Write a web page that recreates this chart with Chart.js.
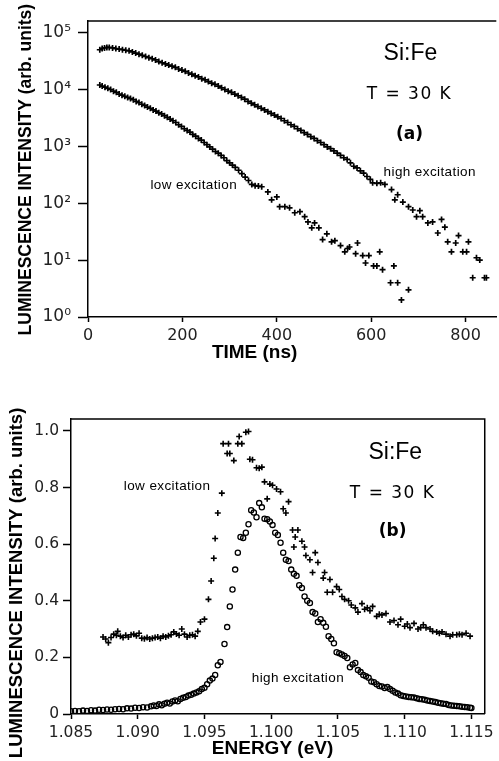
<!DOCTYPE html>
<html>
<head>
<meta charset="utf-8">
<script src="https://cdn.jsdelivr.net/npm/chart.js@4.4.1/dist/chart.umd.min.js"></script>
<style>
html, body { margin: 0; padding: 0; background: #fff; overflow: hidden; }
#wrap { position: relative; width: 499px; height: 761px; overflow: hidden; }
canvas { position: absolute; left: 0; }
#decay { top: 0; }
#spectrum { top: 370px; }
</style>
</head>
<body>
<div id="wrap">
    <canvas id="decay" width="502" height="365"></canvas>
    <canvas id="spectrum" width="499" height="391"></canvas>
</div>
<script>
// ---- panel (a): luminescence decay, log scale ----
const timeHigh = [25, 30, 35, 40, 45, 52, 59, 66, 73, 80, 87, 94, 101, 108, 115, 122, 129, 136, 143, 150,
    157, 164, 171, 178, 185, 192, 199, 206, 213, 220, 227, 234, 241, 248, 255, 262, 269, 276, 283, 290,
    297, 304, 311, 318, 325, 332, 339, 346, 353, 360, 367, 374, 381, 388, 395, 402, 409, 416, 423, 430,
    437, 444, 451, 458, 465, 472, 479, 486, 493, 500, 507, 514, 521, 528, 535, 542, 549, 556, 563, 570,
    577, 584, 591, 598, 603, 612, 620, 629, 643, 650, 656, 667, 679, 688, 696, 703, 709, 720, 730, 741,
    749, 756, 762, 770, 779, 785, 794, 802, 806, 815, 823, 830, 840, 844];
const intensityHigh = [50000, 52500, 53700, 55000, 55000, 53700, 52500, 51300, 50100, 49000, 47900, 45700, 43700, 41700, 39800, 38000, 36300, 34700, 33100, 30900,
    29500, 28200, 26900, 25700, 24500, 22900, 21900, 20900, 19500, 18600, 17400, 16600, 15500, 14800, 13800, 12900, 12300, 11500, 10700, 10000,
    9330, 8910, 8320, 7760, 7240, 6760, 6170, 5750, 5370, 5010, 4680, 4370, 4070, 3800, 3550, 3310, 3090, 2820, 2630, 2400,
    2240, 2040, 1910, 1740, 1620, 1480, 1380, 1260, 1170, 1070, 977, 912, 832, 759, 692, 631, 589, 513, 447, 417,
    372, 339, 295, 263, 229, 224, 229, 214, 174, 115, 141, 105, 87, 76, 58, 74, 58, 45, 47, 30,
    52, 38, 21, 14, 20, 27, 14, 14, 21, 4.9, 11, 10, 4.9, 4.9];

const timeLow = [25, 30, 36, 42, 48, 54, 60, 66, 72, 78, 84, 90, 96, 102, 108, 114, 120, 126, 132, 138,
    144, 150, 156, 162, 168, 174, 180, 186, 192, 198, 204, 210, 216, 222, 228, 234, 240, 246, 252, 258,
    264, 270, 276, 282, 288, 294, 300, 306, 312, 319, 326, 333, 340, 347, 354, 361, 368, 381, 389, 400,
    406, 417, 427, 438, 449, 459, 466, 474, 480, 489, 497, 506, 516, 523, 535, 544, 550, 554, 567, 571,
    582, 588, 595, 605, 612, 618, 624, 641, 648, 656, 664, 679];
const intensityLow = [12000, 11500, 11000, 10500, 10000, 9330, 8910, 8320, 7940, 7590, 7240, 6920, 6610, 6170, 5890, 5500, 5250, 4900, 4680, 4370,
    4170, 3890, 3720, 3470, 3240, 3020, 2820, 2630, 2400, 2240, 2040, 1910, 1780, 1620, 1510, 1380, 1290, 1170, 1070, 977,
    891, 813, 759, 692, 631, 562, 513, 468, 427, 380, 331, 288, 251, 214, 204, 200, 195, 158, 115, 129,
    87, 87, 83, 68, 71, 58, 47, 37, 45, 37, 23, 29, 21, 22, 18, 14, 16, 17, 13, 20,
    12, 8.9, 12, 7.9, 7.9, 14, 6.8, 4.0, 7.9, 4.0, 2.0, 3.0];

const timeTicks = [0, 200, 400, 600, 800];
const decadeTicks = [1, 10, 100, 1000, 10000, 100000];
const SUPERSCRIPTS = ['\u2070', '\u00b9', '\u00b2', '\u00b3', '\u2074', '\u2075'];

// ---- panel (b): luminescence spectra ----
const energyHigh = [
    1.0850, 1.0853, 1.0856, 1.0859, 1.0862, 1.0865, 1.0868, 1.0871, 1.0874, 1.0877,
    1.0880, 1.0883, 1.0886, 1.0889, 1.0892, 1.0895, 1.0898, 1.0901, 1.0904, 1.0907,
    1.0910, 1.0912, 1.0914, 1.0916, 1.0918, 1.0920, 1.0922, 1.0924, 1.0926, 1.0928,
    1.0930, 1.0932, 1.0934, 1.0936, 1.0938, 1.0940, 1.0942, 1.0944, 1.0946, 1.0948,
    1.0950, 1.0952, 1.0954, 1.0956, 1.0958, 1.0960, 1.0962, 1.0965, 1.0967, 1.0969,
    1.0971, 1.0973, 1.0975, 1.0977, 1.0979, 1.0981, 1.0983, 1.0985, 1.0987, 1.0989,
    1.0991, 1.0993, 1.0995, 1.0997, 1.0999, 1.1001, 1.1003, 1.1005, 1.1007, 1.1009,
    1.1011, 1.1013, 1.1015, 1.1017, 1.1019, 1.1021, 1.1023, 1.1025, 1.1027, 1.1029,
    1.1031, 1.1033, 1.1035, 1.1037, 1.1039, 1.1041, 1.1043, 1.1045, 1.1047, 1.1049,
    1.1051, 1.1053, 1.1055, 1.1057, 1.1059, 1.1061, 1.1063, 1.1065, 1.1067, 1.1069,
    1.1071, 1.1073, 1.1075, 1.1077, 1.1079, 1.1081, 1.1083, 1.1085, 1.1087, 1.1089,
    1.1091, 1.1093, 1.1095, 1.1097, 1.1099, 1.1101, 1.1103, 1.1105, 1.1107, 1.1109,
    1.1111, 1.1113, 1.1115, 1.1117, 1.1119, 1.1121, 1.1123, 1.1125, 1.1127, 1.1129,
    1.1131, 1.1133, 1.1135, 1.1137, 1.1139, 1.1141, 1.1143, 1.1145, 1.1147, 1.1149,
    1.1150];
const specHigh = [
    0.010, 0.011, 0.010, 0.012, 0.011, 0.013, 0.012, 0.015, 0.014, 0.016,
    0.015, 0.017, 0.018, 0.017, 0.020, 0.019, 0.022, 0.021, 0.024, 0.023,
    0.027, 0.030, 0.028, 0.034, 0.031, 0.036, 0.040, 0.037, 0.044, 0.048,
    0.045, 0.053, 0.057, 0.060, 0.065, 0.068, 0.072, 0.076, 0.080, 0.088,
    0.093, 0.105, 0.118, 0.125, 0.138, 0.172, 0.184, 0.247, 0.307, 0.380,
    0.440, 0.510, 0.570, 0.625, 0.622, 0.640, 0.670, 0.720, 0.712, 0.695,
    0.745, 0.730, 0.690, 0.688, 0.680, 0.668, 0.640, 0.632, 0.605, 0.570,
    0.545, 0.540, 0.510, 0.495, 0.488, 0.455, 0.445, 0.415, 0.400, 0.392,
    0.360, 0.355, 0.325, 0.335, 0.322, 0.308, 0.275, 0.265, 0.250, 0.218,
    0.215, 0.210, 0.205, 0.198, 0.165, 0.175, 0.180, 0.155, 0.148, 0.138,
    0.133, 0.128, 0.115, 0.112, 0.105, 0.099, 0.097, 0.092, 0.095, 0.088,
    0.082, 0.076, 0.072, 0.066, 0.064, 0.062, 0.060, 0.059, 0.058, 0.056,
    0.053, 0.052, 0.050, 0.048, 0.046, 0.044, 0.042, 0.040, 0.038, 0.036,
    0.035, 0.032, 0.030, 0.029, 0.028, 0.027, 0.026, 0.025, 0.024, 0.022,
    0.021];

const energyLow = [
    1.0874, 1.0876, 1.0878, 1.0880, 1.0882, 1.0884, 1.0885, 1.0887, 1.0889, 1.0891,
    1.0893, 1.0895, 1.0897, 1.0899, 1.0901, 1.0903, 1.0905, 1.0907, 1.0909, 1.0911,
    1.0913, 1.0915, 1.0917, 1.0919, 1.0921, 1.0923, 1.0925, 1.0927, 1.0929, 1.0931,
    1.0933, 1.0935, 1.0937, 1.0939, 1.0941, 1.0943, 1.0945, 1.0947, 1.0950, 1.0953,
    1.0955, 1.0957, 1.0958, 1.0960, 1.0963, 1.0964, 1.0967, 1.0968, 1.0969, 1.0972,
    1.0975, 1.0976, 1.0978, 1.0981, 1.0983, 1.0984, 1.0986, 1.0989, 1.0991, 1.0993,
    1.0995, 1.0997, 1.0999, 1.1001, 1.1004, 1.1007, 1.1009, 1.1011, 1.1013, 1.1016,
    1.1017, 1.1018, 1.1020, 1.1023, 1.1025, 1.1026, 1.1029, 1.1031, 1.1033, 1.1035,
    1.1039, 1.1040, 1.1042, 1.1044, 1.1046, 1.1049, 1.1051, 1.1053, 1.1055, 1.1058,
    1.1060, 1.1063, 1.1065, 1.1068, 1.1070, 1.1072, 1.1074, 1.1076, 1.1079, 1.1081,
    1.1083, 1.1086, 1.1089, 1.1092, 1.1095, 1.1097, 1.1100, 1.1102, 1.1104, 1.1107,
    1.1110, 1.1112, 1.1114, 1.1116, 1.1119, 1.1121, 1.1124, 1.1126, 1.1128, 1.1131,
    1.1134, 1.1136, 1.1139, 1.1141, 1.1143, 1.1146, 1.1149];
const specLow = [
    0.272, 0.265, 0.252, 0.270, 0.282, 0.278, 0.292, 0.275, 0.270, 0.278,
    0.272, 0.280, 0.282, 0.276, 0.285, 0.268, 0.266, 0.270, 0.265, 0.268,
    0.270, 0.272, 0.268, 0.275, 0.272, 0.276, 0.280, 0.290, 0.283, 0.278,
    0.300, 0.282, 0.272, 0.278, 0.280, 0.275, 0.292, 0.325, 0.335, 0.405,
    0.470, 0.550, 0.620, 0.710, 0.780, 0.955, 0.920, 0.955, 0.920, 0.895,
    0.955, 0.980, 0.955, 0.995, 0.998, 0.900, 0.898, 0.870, 0.868, 0.872,
    0.820, 0.760, 0.812, 0.808, 0.795, 0.785, 0.725, 0.710, 0.750, 0.650,
    0.590, 0.625, 0.650, 0.610, 0.590, 0.560, 0.545, 0.500, 0.570, 0.535,
    0.480, 0.500, 0.430, 0.475, 0.430, 0.450, 0.440, 0.415, 0.405, 0.400,
    0.385, 0.375, 0.360, 0.390, 0.370, 0.375, 0.365, 0.380, 0.345, 0.352,
    0.350, 0.355, 0.325, 0.330, 0.315, 0.335, 0.310, 0.318, 0.305, 0.320,
    0.300, 0.305, 0.315, 0.305, 0.300, 0.292, 0.290, 0.285, 0.290, 0.282,
    0.275, 0.280, 0.280, 0.282, 0.280, 0.285, 0.275];

const energyTicks = [1.085, 1.090, 1.095, 1.100, 1.105, 1.110, 1.115];
const spectrumTicks = [0, 0.2, 0.4, 0.6, 0.8, 1.0];

const toPoints = (xs, ys) => xs.map((x, i) => ({ x: x, y: ys[i] }));

Chart.defaults.font.family = "'DejaVu Sans', sans-serif";
Chart.defaults.color = '#222';

// draws the top/right frame, the in-plot notes and the axis titles
const framePlugin = {
    id: 'frame',
    afterDraw(chart, args, opts) {
        const { ctx, chartArea: area, scales } = chart;
        ctx.save();
        ctx.strokeStyle = '#000';
        ctx.lineWidth = 1.5;
        ctx.beginPath();
        ctx.moveTo(area.left, area.top);
        ctx.lineTo(area.right, area.top);
        if (opts.rightBorder) {
            ctx.lineTo(area.right, area.bottom);
        }
        ctx.stroke();

        ctx.fillStyle = '#000';
        ctx.textAlign = 'center';
        ctx.textBaseline = 'middle';
        opts.notes.forEach(note => {
            ctx.font = note.font;
            ctx.letterSpacing = note.spacing || '0px';
            ctx.fillText(note.text, scales.x.getPixelForValue(note.x), scales.y.getPixelForValue(note.y));
        });
        ctx.letterSpacing = '0px';

        // x title under the axis
        ctx.font = opts.xTitle.font;
        ctx.fillText(opts.xTitle.text, scales.x.getPixelForValue(opts.xTitle.at), area.bottom + opts.xTitle.offset);

        // y title, rotated
        ctx.font = opts.yTitle.font;
        ctx.translate(opts.yTitle.left, scales.y.getPixelForValue(opts.yTitle.at));
        ctx.rotate(-Math.PI / 2);
        ctx.fillText(opts.yTitle.text, 0, 0);
        ctx.restore();
    }
};

const tickFont = { family: "'DejaVu Sans', sans-serif", size: 16 };

new Chart(document.getElementById('decay'), {
    type: 'scatter',
    data: {
        datasets: [{
            label: 'high excitation',
            data: toPoints(timeHigh, intensityHigh),
            pointStyle: 'cross',
            pointRadius: 3,
            borderWidth: 1.7,
            borderColor: '#000',
        }, {
            label: 'low excitation',
            data: toPoints(timeLow, intensityLow),
            pointStyle: 'cross',
            pointRadius: 3,
            borderWidth: 1.7,
            borderColor: '#000',
        }],
    },
    options: {
        responsive: false,
        animation: false,
        layout: { padding: { top: 21, right: 0, left: 0, bottom: 0 } },
        scales: {
            x: {
                type: 'linear',
                min: 0,
                max: 865,
                afterBuildTicks: scale => { scale.ticks = timeTicks.map(v => ({ value: v })); },
                afterFit: scale => { scale.height = 48; },
                grid: { drawOnChartArea: false, tickLength: 5, tickWidth: 1.5, tickColor: '#000' },
                border: { color: '#000', width: 1.5 },
                ticks: { font: tickFont, padding: 4, maxRotation: 0, autoSkip: false },
            },
            y: {
                type: 'logarithmic',
                min: 1,
                max: 160000,
                afterBuildTicks: scale => { scale.ticks = decadeTicks.map(v => ({ value: v })); },
                afterFit: scale => { scale.width = 88; },
                grid: { drawOnChartArea: false, tickLength: 10, tickWidth: 1.5, tickColor: '#000' },
                border: { color: '#000', width: 1.5 },
                ticks: {
                    font: { family: "'DejaVu Sans', sans-serif", size: 17 },
                    padding: 7,
                    autoSkip: false,
                    callback: v => '10' + SUPERSCRIPTS[Math.round(Math.log10(v))],
                },
            },
        },
        plugins: {
            legend: { display: false },
            tooltip: { enabled: false },
            frame: {
                rightBorder: false,
                notes: [
                    { text: 'Si:Fe', x: 683, y: 42600, font: "23px 'Liberation Sans'" },
                    { text: 'T = 30 K', x: 681, y: 8100, font: "17px 'DejaVu Sans'", spacing: '1.5px' },
                    { text: '(a)', x: 681, y: 1580, font: "bold 17px 'DejaVu Sans'" },
                    { text: 'high excitation', x: 724, y: 355, font: "13.5px 'Liberation Sans'", spacing: '0.4px' },
                    { text: 'low excitation', x: 224, y: 205, font: "13.5px 'Liberation Sans'", spacing: '0.4px' },
                ],
                xTitle: { text: 'TIME (ns)', at: 353, offset: 36, font: "bold 19px 'Liberation Sans'" },
                yTitle: { text: 'LUMINESCENCE INTENSITY (arb. units)', at: 390, left: 26, font: "bold 17.5px 'Liberation Sans'" },
            },
        },
    },
    plugins: [framePlugin],
});

new Chart(document.getElementById('spectrum'), {
    type: 'scatter',
    data: {
        datasets: [{
            label: 'low excitation',
            data: toPoints(energyLow, specLow),
            pointStyle: 'cross',
            pointRadius: 3,
            borderWidth: 1.6,
            borderColor: '#000',
        }, {
            label: 'high excitation',
            data: toPoints(energyHigh, specHigh),
            pointStyle: 'circle',
            pointRadius: 2.6,
            borderWidth: 1.3,
            borderColor: '#000',
            backgroundColor: 'rgba(0,0,0,0)',
        }],
    },
    options: {
        responsive: false,
        animation: false,
        layout: { padding: { top: 49, right: 13, left: 0, bottom: 0 } },
        scales: {
            x: {
                type: 'linear',
                min: 1.085,
                max: 1.116,
                afterBuildTicks: scale => { scale.ticks = energyTicks.map(v => ({ value: v })); },
                afterFit: scale => { scale.height = 47; },
                grid: { drawOnChartArea: false, tickLength: 5, tickWidth: 1.5, tickColor: '#000' },
                border: { color: '#000', width: 1.5 },
                ticks: { font: { size: 15.5 }, padding: 5, maxRotation: 0, autoSkip: false, callback: v => v.toFixed(3) },
            },
            y: {
                type: 'linear',
                min: 0,
                max: 1.042,
                afterBuildTicks: scale => { scale.ticks = spectrumTicks.map(v => ({ value: v })); },
                afterFit: scale => { scale.width = 71; },
                grid: { drawOnChartArea: false, tickLength: 8, tickWidth: 1.5, tickColor: '#000' },
                border: { color: '#000', width: 1.5 },
                ticks: { font: { size: 15.5 }, padding: 4, autoSkip: false, callback: v => (v === 0 ? '0' : v.toFixed(1)) },
            },
        },
        plugins: {
            legend: { display: false },
            tooltip: { enabled: false },
            frame: {
                rightBorder: true,
                notes: [
                    { text: 'Si:Fe', x: 1.1093, y: 0.922, font: "23px 'Liberation Sans'" },
                    { text: 'T = 30 K', x: 1.1091, y: 0.777, font: "17px 'DejaVu Sans'", spacing: '1.5px' },
                    { text: '(b)', x: 1.1091, y: 0.643, font: "bold 17px 'DejaVu Sans'" },
                    { text: 'low excitation', x: 1.0922, y: 0.806, font: "13.5px 'Liberation Sans'", spacing: '0.4px' },
                    { text: 'high excitation', x: 1.1020, y: 0.127, font: "13.5px 'Liberation Sans'", spacing: '0.4px' },
                ],
                xTitle: { text: 'ENERGY (eV)', at: 1.1001, offset: 35, font: "bold 19px 'Liberation Sans'" },
                yTitle: { text: 'LUMINESCENCE INTENSITY (arb. units)', at: 0.463, left: 17, font: "bold 18.5px 'Liberation Sans'" },
            },
        },
    },
    plugins: [framePlugin],
});
</script>
</body>
</html>
